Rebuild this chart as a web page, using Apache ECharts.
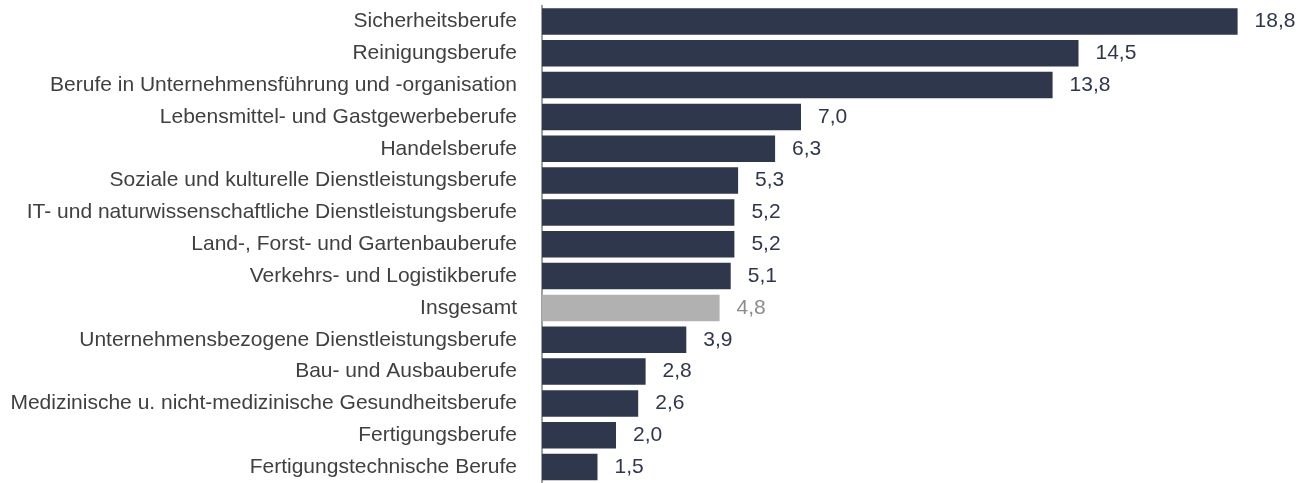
<!DOCTYPE html>
<html>
<head>
<meta charset="utf-8">
<script src="https://cdn.jsdelivr.net/npm/echarts@6/dist/echarts.min.js"></script>
<style>html,body{margin:0;padding:0;background:#fff;}#c{width:1309px;height:483px;}</style>
</head>
<body>
<div id="c"></div>
<script>
const categories = [
  "Sicherheitsberufe",
  "Reinigungsberufe",
  "Berufe in Unternehmensführung und -organisation",
  "Lebensmittel- und Gastgewerbeberufe",
  "Handelsberufe",
  "Soziale und kulturelle Dienstleistungsberufe",
  "IT- und naturwissenschaftliche Dienstleistungsberufe",
  "Land-, Forst- und Gartenbauberufe",
  "Verkehrs- und Logistikberufe",
  "Insgesamt",
  "Unternehmensbezogene Dienstleistungsberufe",
  "Bau- und Ausbauberufe",
  "Medizinische u. nicht-medizinische Gesundheitsberufe",
  "Fertigungsberufe",
  "Fertigungstechnische Berufe"
];
const values = [18.8, 14.5, 13.8, 7.0, 6.3, 5.3, 5.2, 5.2, 5.1, 4.8, 3.9, 2.8, 2.6, 2.0, 1.5];
const highlight = "Insgesamt";

const chart = echarts.init(document.getElementById('c'), null, {renderer: 'canvas'});
const font = 'Arial, "Liberation Sans", sans-serif';
chart.setOption({
  animation: false,
  grid: {left: 542, right: 27, top: 5.5, bottom: -4, containLabel: false},
  xAxis: {
    type: 'value', min: 0, max: 20, show: false
  },
  yAxis: {
    type: 'category', inverse: true, data: categories,
    axisLine: {show: true, lineStyle: {color: '#7f7f7f', width: 1.5}},
    axisTick: {show: false},
    axisLabel: {color: '#404040', fontSize: 21, fontFamily: font, margin: 25}
  },
  series: [{
    type: 'bar',
    barCategoryGap: '17%',
    data: values.map((v, i) => ({
      value: v,
      itemStyle: {color: categories[i] === highlight ? '#b1b1b1' : '#2f374c'},
      label: {color: categories[i] === highlight ? '#8c8c8c' : '#2f374c'}
    })),
    label: {
      show: true, position: 'right', distance: 17,
      fontSize: 21, fontFamily: font,
      formatter: p => p.value.toFixed(1).replace('.', ',')
    }
  }]
});
</script>
</body>
</html>
